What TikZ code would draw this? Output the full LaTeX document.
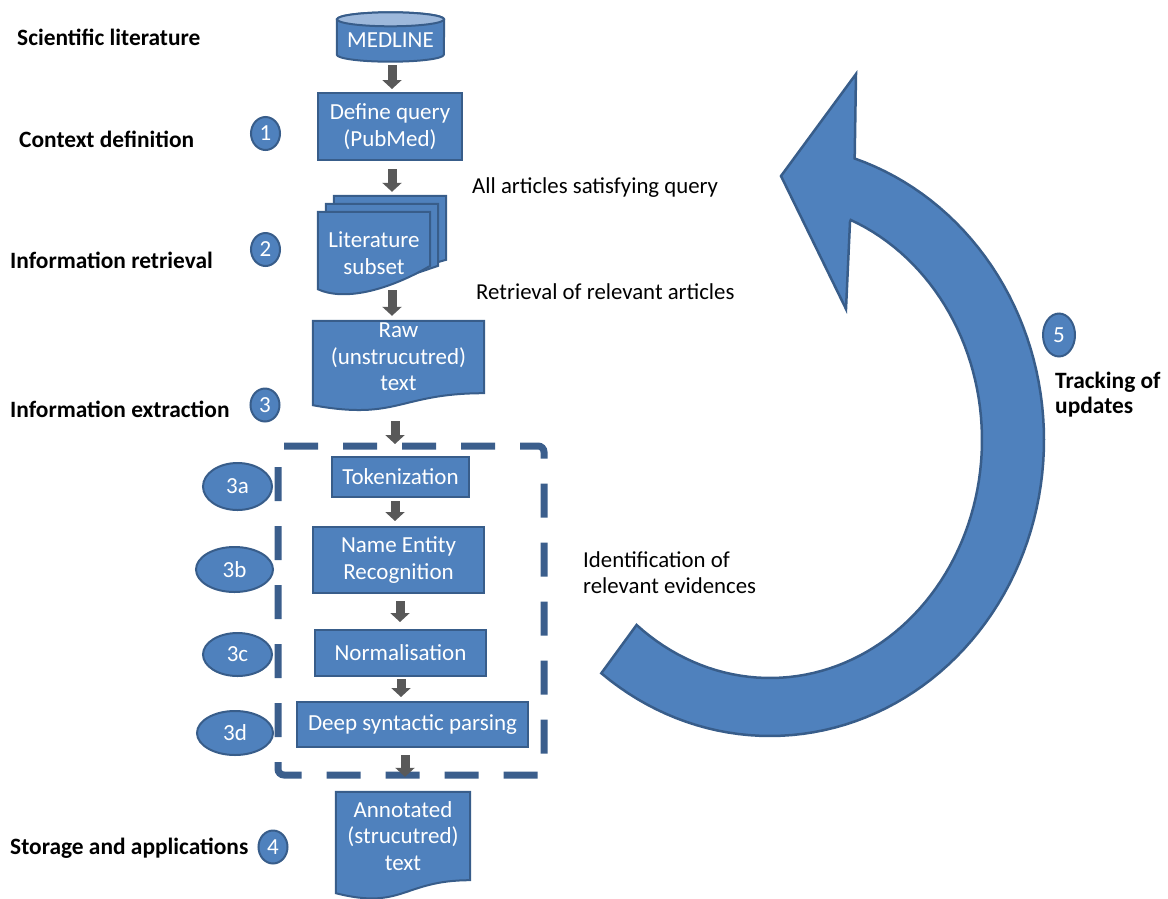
\documentclass[tikz,border=0pt]{standalone}
\usepackage{fontspec}
\setmainfont{Carlito}
\usetikzlibrary{arrows.meta,shapes.geometric,calc}
\pgfdeclarelayer{background}
\pgfsetlayers{background,main}

\definecolor{boxblue}{HTML}{4F81BD}
\definecolor{boxedge}{HTML}{385D8A}
\definecolor{captop}{HTML}{9DB8DB}
\definecolor{flowgrey}{HTML}{595959}
\definecolor{dashblue}{HTML}{3B5E8C}

\newcommand{\boxfont}{\fontsize{23}{26.5}\selectfont}
\newcommand{\labfont}{\fontsize{23.4}{26}\selectfont\bfseries}
\newcommand{\notefont}{\fontsize{22.8}{26}\selectfont}

% document outline with a wavy bottom, built on a node's rectangle
\newcommand{\docpath}[2]{%
  (#1.north west) -- (#1.north east) -- (#1.south east)
  .. controls (#1.south) and ($(#1.south)+(0,2.31*#2)$) .. ($(#1.south west)+(0,#2)$) -- cycle}

% one sheet of the literature stack, offset up and right by #1, right side #2 long
\newcommand{\stackdoc}[2]{%
  \path[docbody] ($(lit.north west)+(#1,-#1)$) -- ($(lit.north east)+(#1,-#1)$)
    -- ($(lit.north east)+(#1,#2-#1)$)
    .. controls ($(lit.north east)+(#1-30,72-#1)$) and ($(lit.north west)+(#1+32,92-#1)$)
    .. ($(lit.south west)+(#1,-5-#1)$) -- cycle;}

\begin{document}
\begin{tikzpicture}[x=1pt,y=1pt,yscale=-1,
  box/.style={draw=boxedge, fill=boxblue, line width=2pt, text=white,
    font=\boxfont, align=center, inner sep=0pt},
  txt/.style={text=white, font=\boxfont, align=center, inner sep=0pt},
  docbody/.style={fill=boxblue, draw=boxedge, line width=2pt},
  num/.style={ellipse, draw=boxedge, fill=boxblue, line width=2pt,
    text=white, font=\boxfont, inner sep=0pt},
  lab/.style={anchor=base west, font=\labfont, inner sep=0pt},
  note/.style={anchor=base west, font=\notefont, inner sep=0pt},
  flow/.style={draw=flowgrey, line width=9pt,
    -{Triangle[width=19pt,length=9pt]}},
  dashbox/.style={draw=dashblue, line width=7pt, rounded corners=6pt,
    dash pattern=on 34pt off 25pt},
  bigarrow/.style={fill=boxblue, draw=boxedge, line width=2.5pt, line join=miter}]

\useasboundingbox (0,0) rectangle (1168,898);

% ---- process blocks ----
\node[txt, minimum width=107pt, minimum height=42pt] (medline) at (390.5,40.5) {MEDLINE};
\node[box, minimum width=144pt, minimum height=67pt] (query) at (390,126.5) {Define query\\(PubMed)};
\node[txt, minimum width=112pt, minimum height=82pt] (lit) at (374,253) {Literature\\subset};
\node[txt, minimum width=171pt, minimum height=72pt] (raw) at (398.5,357) {Raw\\(unstrucutred)\\text};
\node[box, minimum width=137pt, minimum height=40pt] (tok) at (400.5,477) {Tokenization};
\node[box, minimum width=171pt, minimum height=66pt] (ner) at (398.5,560) {Name Entity\\Recognition};
\node[box, minimum width=171pt, minimum height=46pt] (norm) at (400.5,653) {Normalisation};
\node[box, minimum width=231pt, minimum height=45pt] (deep) at (412.5,724.5) {Deep syntactic parsing};
\node[txt, minimum width=134pt, minimum height=88pt] (ann) at (403,836) {Annotated\\(strucutred)\\text};

\begin{pgfonlayer}{background}
  % database cylinder
  \path[docbody] (medline.north west) -- ($(medline.south west)+(0,-7)$)
    arc[start angle=180, end angle=0, x radius=53.5, y radius=7]
    -- (medline.north east) arc[start angle=0, end angle=-180, x radius=53.5, y radius=7] -- cycle;
  \path[fill=captop, draw=boxedge, line width=2pt] (medline.north) ellipse[x radius=53.5, y radius=7];
  % literature stack
  \stackdoc{16}{64}
  \stackdoc{8}{62}
  \stackdoc{0}{54}
  % documents
  \path[docbody] \docpath{raw}{12};
  \path[docbody] \docpath{ann}{13};
\end{pgfonlayer}

% ---- dashed frame round the extraction steps ----
\draw[dashbox] (278,446) -- (544,446) -- (544,775) -- (278,775) -- cycle;

% ---- flow arrows ----
\draw[flow, shorten <=3.5pt, shorten >=3pt] ([xshift=1.5pt]medline.south) -- ([xshift=1.5pt]medline.south |- query.north);
\draw[flow, shorten <=8pt, shorten >=20pt] ([xshift=2pt]query.south) -- ([xshift=2pt]query.south |- lit.north);
\draw[flow, shorten <=-4pt, shorten >=5pt] ([xshift=18pt]lit.south) -- ([xshift=18pt]lit.south |- raw.north);
\draw[flow, shorten <=28pt, shorten >=12pt] ([xshift=-3.5pt]raw.south) -- ([xshift=-3.5pt]raw.south |- tok.north);
\draw[flow, shorten <=3pt, shorten >=5pt] ([xshift=-5.5pt]tok.south) -- ([xshift=-5.5pt]tok.south |- ner.north);
\draw[flow, shorten <=7pt, shorten >=7pt] ([xshift=1.5pt]ner.south) -- ([xshift=1.5pt]ner.south |- norm.north);
\draw[flow, shorten <=2pt, shorten >=4pt] ([xshift=0.5pt]norm.south) -- ([xshift=0.5pt]norm.south |- deep.north);
\draw[flow, shorten <=7pt, shorten >=15pt] ([xshift=-7.5pt]deep.south) -- ([xshift=-7.5pt]deep.south |- ann.north);

% ---- curved feedback arrow ----
\path[bigarrow]
  plot[domain=128:-72, samples=90] ({770+274*cos(\x)},{440+296*sin(\x)})
  -- (856,74) -- (781,176) -- (846,309) -- (850,222)
  -- plot[domain=-67.6:129, samples=90] ({770+212*cos(\x)},{440+238*sin(\x)})
  -- cycle;

% ---- step numbers ----
\node[num, minimum width=29pt, minimum height=33pt] (n1) at (265.5,133.5) {1};
\node[num, minimum width=29pt, minimum height=33pt] (n2) at (265.5,249.5) {2};
\node[num, minimum width=29pt, minimum height=33pt] (n3) at (265,405) {3};
\node[num, minimum width=29pt, minimum height=33pt] (n4) at (273,847) {4};
\node[num, minimum width=32pt, minimum height=43pt] (n5) at (1059,335) {5};
\node[num, minimum width=69pt, minimum height=47pt] (n3a) at (237.5,486.5) {3a};
\node[num, minimum width=77pt, minimum height=45pt] (n3b) at (234.5,569.5) {3b};
\node[num, minimum width=69pt, minimum height=43pt] (n3c) at (237.5,654.5) {3c};
\node[num, minimum width=76pt, minimum height=44pt] (n3d) at (235,733) {3d};

% ---- stage labels ----
\node[lab] (l1) at (17,45) {Scientific literature};
\node[lab] (l2) at (19,147) {Context definition};
\node[lab] (l3) at (10,268) {Information retrieval};
\node[lab] (l4) at (10,417) {Information extraction};
\node[lab] (l5) at (10,854) {Storage and applications};
\node[lab] (l6a) at (1055,388) {Tracking of};
\node[lab] (l6b) at (1055,413) {updates};

% ---- side notes ----
\node[note] (t1) at (472,193) {All articles satisfying query};
\node[note] (t2) at (476,299) {Retrieval of relevant articles};
\node[note] (t3a) at (583,567) {Identification of};
\node[note] (t3b) at (583,593) {relevant evidences};

\end{tikzpicture}
\end{document}
